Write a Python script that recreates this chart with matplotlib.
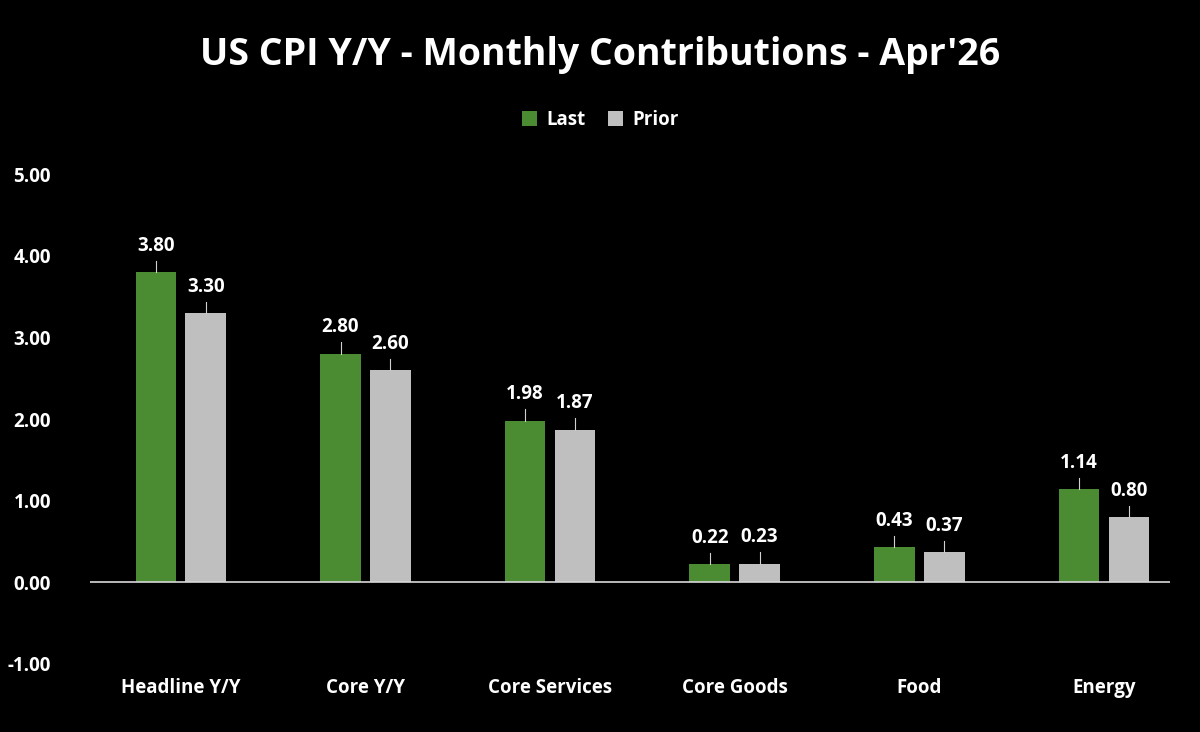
import matplotlib
matplotlib.use("Agg")
import matplotlib.pyplot as plt
import numpy as np

categories = ["Headline Y/Y", "Core Y/Y", "Core Services", "Core Goods", "Food", "Energy"]
last = [3.80, 2.80, 1.98, 0.22, 0.43, 1.14]
prior = [3.30, 2.60, 1.87, 0.23, 0.37, 0.80]

plt.rcParams['font.family'] = ['Open Sans', 'DejaVu Sans']
fig = plt.figure(figsize=(12, 7.32), dpi=100, facecolor='black')
ax = fig.add_axes([0.075, 0.093, 0.90, 0.669], facecolor='black')

x = np.arange(len(categories))
w = 0.22
green = '#4b8b32'
grey = '#bfbfbf'
b1 = ax.bar(x - 0.135, last, w, color=green, label='Last')
b2 = ax.bar(x + 0.135, prior, w, color=grey, label='Prior')
for bars, vals in ((b1, last), (b2, prior)):
    for r, v in zip(bars, vals):
        cx = r.get_x() + r.get_width() / 2
        ax.plot([cx, cx], [v, v + 0.14], color='#d0d0d0', lw=0.8)
        ax.text(cx, v + 0.2, f"{v:.2f}", ha='center', va='bottom', color='white',
                fontsize=13.5, fontweight='bold')

ax.axhline(0, color='#d9d9d9', lw=1.2)
ax.set_ylim(-1, 5)
ax.set_xlim(-0.492, 5.358)
ax.set_yticks(np.arange(-1, 6, 1))
ax.set_yticklabels([f"{t:.2f}" for t in np.arange(-1, 6, 1)])
ax.set_xticks(x)
ax.set_xticklabels(categories)
ax.tick_params(colors='white', length=0, labelsize=13.5)
ax.tick_params(axis='x', pad=10)
for lab in ax.get_xticklabels() + ax.get_yticklabels():
    lab.set_fontweight('bold')
ax.yaxis.set_tick_params(pad=28)
for s in ax.spines.values():
    s.set_visible(False)

fig.text(0.5, 0.925, "US CPI Y/Y - Monthly Contributions - Apr'26", ha='center', va='center',
         color='white', fontsize=27, fontweight='bold')
leg = fig.legend(handles=[b1, b2], labels=['Last', 'Prior'], loc='center', bbox_to_anchor=(0.5, 0.836),
                 ncol=2, frameon=False, fontsize=13.5, handlelength=0.8, handleheight=0.8,
                 columnspacing=1.2, handletextpad=0.5)
for t in leg.get_texts():
    t.set_color('white'); t.set_fontweight('bold')

fig.savefig("out.png", dpi=100, facecolor='black')
